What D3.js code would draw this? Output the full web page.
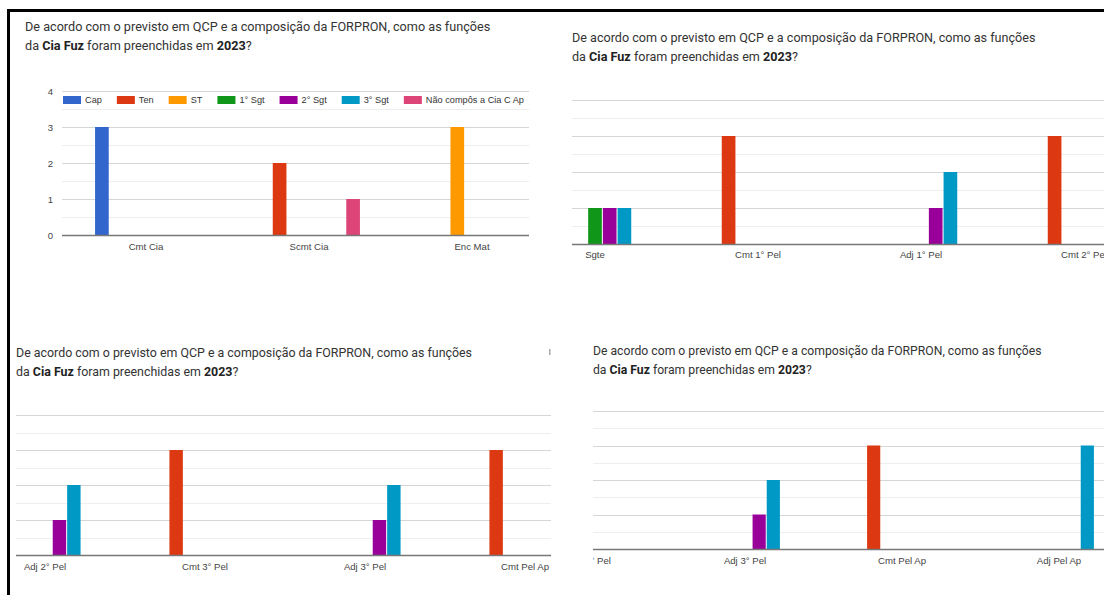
<!DOCTYPE html>
<html>
<head>
<meta charset="utf-8">
<script src="https://cdn.jsdelivr.net/npm/d3@7"></script>
<style>
  body { margin: 0; background: #fff; }
  svg { display: block; }
</style>
</head>
<body>
<div class="chart"></div>
<script>
// Canvas
var svgWidth = 1104;
var svgHeight = 595;

// Data (same form, one long chart, seen through four scrolled screenshots)
var categories = ["Cmt Cia", "Scmt Cia", "Enc Mat", "Sgte", "Cmt 1° Pel", "Adj 1° Pel",
  "Cmt 2° Pel", "Adj 2° Pel", "Cmt 3° Pel", "Adj 3° Pel", "Cmt Pel Ap", "Adj Pel Ap"];
var seriesNames = ["Cap", "Ten", "ST", "1° Sgt", "2° Sgt", "3° Sgt", "Não compôs a Cia C Ap"];
var seriesColors = ["#3366cc", "#dc3912", "#ff9900", "#109618", "#990099", "#0099c6", "#dd4477"];

var capValues       = [3, 0, 0, 0, 0, 0, 0, 0, 0, 0, 0, 0];
var tenValues       = [0, 2, 0, 0, 3, 0, 3, 0, 3, 0, 3, 0];
var stValues        = [0, 0, 3, 0, 0, 0, 0, 0, 0, 0, 0, 0];
var sgt1Values      = [0, 0, 0, 1, 0, 0, 0, 0, 0, 0, 0, 0];
var sgt2Values      = [0, 0, 0, 1, 0, 1, 0, 1, 0, 1, 0, 0];
var sgt3Values      = [0, 0, 0, 1, 0, 2, 0, 2, 0, 2, 0, 3];
var naoComposValues = [0, 1, 0, 0, 0, 0, 0, 0, 0, 0, 0, 0];

var yTicks = [0, 1, 2, 3, 4];

var seriesValues = [capValues, tenValues, stValues, sgt1Values, sgt2Values, sgt3Values, naoComposValues];

// one row per category, handy for nested selections
var rows = categories.map(function(c, i) {
  return { cat: c, vals: seriesNames.map(function(s, j) { return { key: s, value: seriesValues[j][i], color: seriesColors[j] }; }) };
});

// Where each screenshot sits on the page and how far it is scrolled
var panels = [
  { left: 62, right: 529, titleX: 25, titleY: 31, titleSize: 12.65, base: 235, unit: 36,
    firstIdx: 0, firstCenter: 146, step: 163, labelY: 251, yAxis: true, legend: true },
  { left: 572, right: 1104, titleX: 572, titleY: 42, titleSize: 12.6, base: 244, unit: 36,
    firstIdx: 3, firstCenter: 595, step: 163, labelY: 259, yAxis: false, legend: false },
  { left: 16, right: 551, titleX: 16, titleY: 357, titleSize: 12.4, base: 555, unit: 35,
    firstIdx: 7, firstCenter: 45, step: 160, labelY: 571, yAxis: false, legend: false },
  { left: 593, right: 1104, titleX: 593, titleY: 355, titleSize: 12.2, base: 549, unit: 34.5,
    firstIdx: 9, firstCenter: 745, step: 157, labelY: 565, yAxis: false, legend: false }
];

var svg = d3.select(".chart")
  .append("svg")
  .attr("width", svgWidth)
  .attr("height", svgHeight);

var defs = svg.append("defs");

panels.forEach(function(p, k) {
  var g = svg.append("g");

  // Title
  var title = g.append("text")
    .attr("font-family", "Roboto, sans-serif")
    .attr("font-size", p.titleSize)
    .attr("fill", "#333");
  title.append("tspan")
    .attr("x", p.titleX).attr("y", p.titleY)
    .text("De acordo com o previsto em QCP e a composição da FORPRON, como as funções");
  var line2 = title.append("tspan").attr("x", p.titleX).attr("y", p.titleY + 18.5);
  line2.append("tspan").text("da ");
  line2.append("tspan").attr("font-weight", "bold").attr("fill", "#222").text("Cia Fuz");
  line2.append("tspan").text(" foram preenchidas em ");
  line2.append("tspan").attr("font-weight", "bold").attr("fill", "#222").text("2023");
  line2.append("tspan").text("?");

  // Scales
  var x0 = p.firstCenter - (p.firstIdx + 0.5) * p.step;
  var xScale = d3.scaleBand()
    .domain(categories)
    .range([x0, x0 + p.step * categories.length])
    .paddingInner(0.375)
    .paddingOuter(0.1875);
  var xInner = d3.scaleBand()
    .domain(seriesNames)
    .range([0, xScale.bandwidth()])
    .paddingInner(0.07);
  var yScale = d3.scaleLinear()
    .domain([0, 4])
    .range([p.base, p.base - 4 * p.unit]);

  // clip to the visible (scrolled) part
  var clipId = "clip" + k;
  defs.append("clipPath").attr("id", clipId)
    .append("rect")
    .attr("x", p.left).attr("y", 0)
    .attr("width", p.right - p.left).attr("height", svgHeight);

  var plot = g.append("g").attr("clip-path", "url(#" + clipId + ")");

  // gridlines (minor every half unit)
  var gridVals = d3.range(0.5, 4.01, 0.5);
  plot.append("g")
    .selectAll("line")
    .data(gridVals)
    .enter()
    .append("line")
    .attr("x1", p.left).attr("x2", p.right)
    .attr("y1", d => Math.round(yScale(d)) + 0.5)
    .attr("y2", d => Math.round(yScale(d)) + 0.5)
    .attr("stroke", d => d % 1 === 0 ? "#d6d6d6" : "#eeeeee")
    .attr("stroke-width", 1.2);

  // bars
  var groups = plot.append("g")
    .selectAll("g")
    .data(rows)
    .enter()
    .append("g")
    .attr("transform", d => `translate(${xScale(d.cat)},0)`);

  groups.selectAll("rect")
    .data(d => d.vals.filter(v => v.value > 0))
    .enter()
    .append("rect")
    .attr("x", d => xInner(d.key))
    .attr("y", d => yScale(d.value))
    .attr("width", xInner.bandwidth())
    .attr("height", d => yScale(0) - yScale(d.value))
    .attr("fill", d => d.color);

  // baseline
  plot.append("line")
    .attr("x1", p.left).attr("x2", p.right)
    .attr("y1", Math.round(yScale(0)) + 0.5).attr("y2", Math.round(yScale(0)) + 0.5)
    .attr("stroke", "#777")
    .attr("stroke-width", 1.3);

  // category labels, only the ones that show in this scrolled view
  var shown = categories.filter(function(c) {
    var cx = xScale(c) + xScale.bandwidth() / 2;
    return cx > p.left - 25 && cx < p.right + 25;
  });
  var bottomAxis = d3.axisBottom(xScale).tickValues(shown).tickSize(0).tickPadding(0);
  var xAxisG = plot.append("g")
    .attr("transform", `translate(0, ${p.labelY - 8})`)
    .call(bottomAxis);
  xAxisG.select(".domain").remove();
  xAxisG.selectAll("text")
    .attr("dy", "0.71em")
    .attr("font-family", "Arial, 'Liberation Sans', sans-serif")
    .attr("font-size", 9.6)
    .attr("fill", "#444");

  // y axis labels only on the first screenshot
  if (p.yAxis) {
    var leftAxis = d3.axisLeft(yScale).tickValues(yTicks).tickSize(0).tickPadding(9).tickFormat(d3.format("d"));
    var yAxisG = g.append("g")
      .attr("transform", `translate(${p.left}, 0)`)
      .call(leftAxis);
    yAxisG.select(".domain").remove();
    yAxisG.selectAll("text")
      .attr("font-family", "Arial, 'Liberation Sans', sans-serif")
      .attr("font-size", 9.6)
      .attr("fill", "#444");
  }

  // legend
  if (p.legend) {
    var legend = g.append("g").attr("transform", "translate(63, 100)");
    var lx = 0;
    seriesNames.forEach(function(s, j) {
      var item = legend.append("g").attr("transform", `translate(${lx},0)`);
      item.append("rect")
        .attr("x", 0).attr("y", -4)
        .attr("width", 18).attr("height", 8)
        .attr("fill", seriesColors[j]);
      var t = item.append("text")
        .attr("x", 22).attr("y", 3.3)
        .attr("font-family", "Arial, 'Liberation Sans', sans-serif")
        .attr("font-size", 9.2)
        .attr("fill", "#333")
        .text(s);
      lx += 22 + t.node().getComputedTextLength() + 15;
    });
  }
});

// little grey mark next to the third screenshot
svg.append("rect")
  .attr("x", 549).attr("y", 349)
  .attr("width", 1.5).attr("height", 6)
  .attr("fill", "#aaa");

// black frame from the screenshot
svg.append("line")
  .attr("x1", 7).attr("x2", svgWidth)
  .attr("y1", 10.5).attr("y2", 10.5)
  .attr("stroke", "#000").attr("stroke-width", 3);
svg.append("line")
  .attr("x1", 8.5).attr("x2", 8.5)
  .attr("y1", 9).attr("y2", svgHeight)
  .attr("stroke", "#000").attr("stroke-width", 3);
</script>
</body>
</html>
